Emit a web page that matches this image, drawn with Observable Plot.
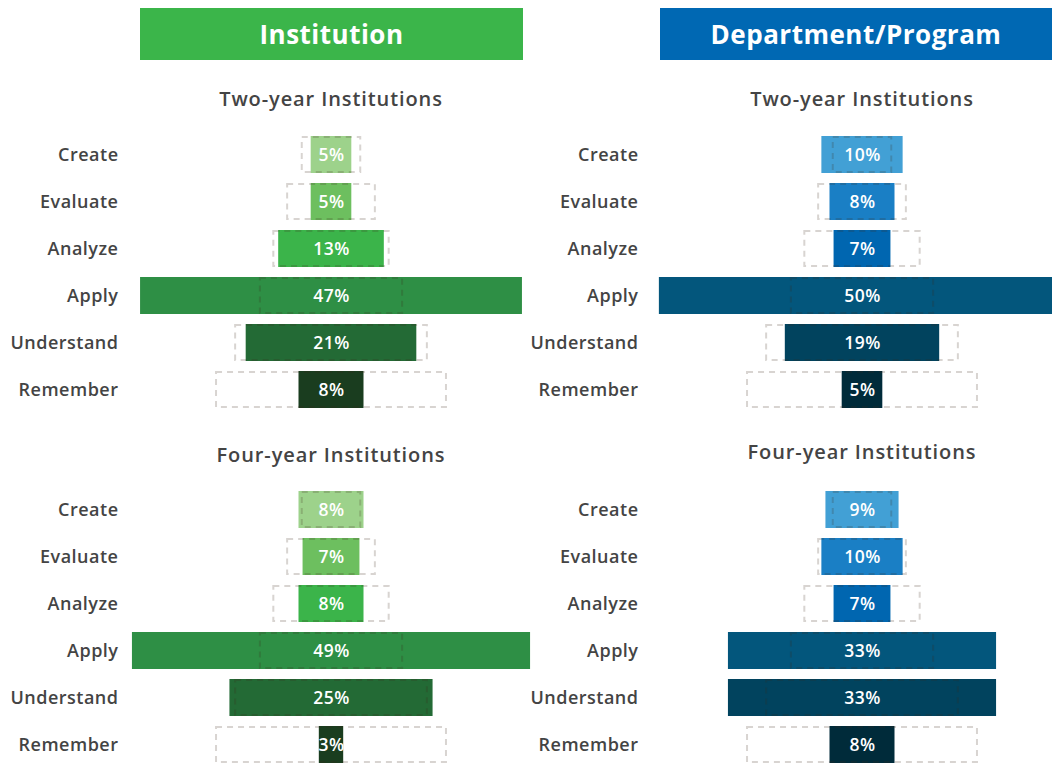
<!DOCTYPE html>
<html>
<head>
<meta charset="utf-8">
<script src="https://cdn.jsdelivr.net/npm/d3@7"></script>
<script src="https://cdn.jsdelivr.net/npm/@observablehq/plot@0.6"></script>
<style>
  html, body { margin: 0; padding: 0; background: #fff; overflow: hidden; width: 1052px; height: 764px; }
  body { position: relative; font-family: "Open Sans", sans-serif; }
  .hdr { position: absolute; top: 8px; height: 52px; line-height: 52px; color: #fff; font-weight: 700; font-size: 26px; letter-spacing: 0.5px; text-align: center; }
  .sub { position: absolute; width: 500px; text-align: center; font-size: 20px; font-weight: 600; letter-spacing: 0.9px; color: #444; line-height: 22px; }
  .panel { position: absolute; width: 526px; }
  .panel svg { overflow: visible; }
  .panel svg text { letter-spacing: 0.5px; }
  .panel g[aria-label="y-axis tick label"] text { font-weight: 600; }
</style>
</head>
<body>
<div id="root"></div>
<script>
// Bloom's taxonomy levels (top to bottom)
const levels = ["Create", "Evaluate", "Analyze", "Apply", "Understand", "Remember"];

// Reference pyramid outline widths (percentage units)
const pyramid = [7.2, 10.8, 14.2, 17.5, 23.6, 28.3];

// Institution-level percentages
const instTwoYear = [5, 5, 13, 47, 21, 8];
const instFourYear = [8, 7, 8, 49, 25, 3];

// Department/Program-level percentages
const deptTwoYear = [10, 8, 7, 50, 19, 5];
const deptFourYear = [9, 10, 7, 33, 33, 8];

const greens = ["#9dd28b", "#6dbf5f", "#3bb44a", "#2e8f45", "#236a35", "#1a3d1f"];
const blues = ["#42a0d5", "#1a7fc5", "#0066b0", "#03567c", "#01435e", "#002b3a"];

const headers = [
  {text: "Institution", left: 140, width: 383, color: "#3bb54a"},
  {text: "Department/Program", left: 660, width: 392, color: "#0068b3"}
];
const subtitles = ["Two-year Institutions", "Four-year Institutions"];

const root = document.getElementById("root");

for (const h of headers) {
  const d = document.createElement("div");
  d.className = "hdr";
  d.textContent = h.text;
  d.style.left = h.left + "px";
  d.style.width = h.width + "px";
  d.style.background = h.color;
  root.appendChild(d);
}

const panels = [
  {values: instTwoYear, colors: greens, left: 0, top: 124, sub: subtitles[0], subTop: 88, pad: 18},
  {values: instFourYear, colors: greens, left: 0, top: 479, sub: subtitles[1], subTop: 444, pad: 18},
  {values: deptTwoYear, colors: blues, left: 531, top: 124, sub: subtitles[0], subTop: 88, pad: 29},
  {values: deptFourYear, colors: blues, left: 531, top: 479, sub: subtitles[1], subTop: 441, pad: 29}
];

for (const p of panels) {
  const sub = document.createElement("div");
  sub.className = "sub";
  sub.textContent = p.sub;
  sub.style.left = (p.left + 136 + 195 - 250) + "px";
  sub.style.top = p.subTop + "px";
  root.appendChild(sub);

  const data = levels.map((l, i) => ({level: l, value: p.values[i], outline: pyramid[i]}));
  const chart = Plot.plot({
    width: 526,
    height: 295,
    marginLeft: 136,
    marginRight: 0,
    marginTop: 0,
    marginBottom: 0,
    style: {fontFamily: "Open Sans, sans-serif", fontSize: "18px", color: "#444", overflow: "visible"},
    x: {domain: [-24, 24], axis: null},
    y: {domain: levels, padding: 0.22, label: null},
    color: {domain: levels, range: p.colors},
    marks: [
      Plot.axisY({tickSize: 0, tickPadding: p.pad, label: null, fontSize: 18}),
      Plot.barX(data, {y: "level", x1: d => -d.value / 2, x2: d => d.value / 2, fill: "level"}),
      Plot.barX(data, {y: "level", x1: d => -d.outline / 2, x2: d => d.outline / 2, fill: "none",
        stroke: "#3a2a1a", strokeOpacity: 0.2, strokeWidth: 2, strokeDasharray: "6,5", insetTop: 1, insetBottom: 1}),
      Plot.text(data, {y: "level", x: 0, text: d => d.value + "%", fill: "white", fontSize: 17.5, fontWeight: 600})
    ]
  });
  const wrap = document.createElement("div");
  wrap.className = "panel";
  wrap.style.left = p.left + "px";
  wrap.style.top = p.top + "px";
  wrap.appendChild(chart);
  root.appendChild(wrap);
}
</script>
</body>
</html>
